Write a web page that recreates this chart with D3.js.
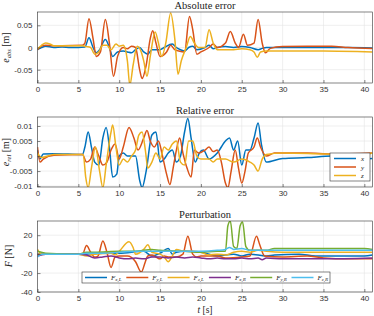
<!DOCTYPE html>
<html>
<head>
<meta charset="utf-8">
<script src="https://cdnjs.cloudflare.com/ajax/libs/d3/7.8.5/d3.min.js"></script>
<style>
  body { margin: 0; background: #fff; }
  svg { display: block; }
  .tick text { font-family: "Liberation Sans", Arial, sans-serif; font-size: 8px; fill: #333; }
</style>
</head>
<body>
<div id="chart"></div>
<script>

// time axis
var tTicks = [0, 5, 10, 15, 20, 25, 30, 35, 40];
var colors = ["#0072BD", "#D95319", "#EDB120", "#7E2F8E", "#77AC30", "#4DBEEE"];

// absolute error [t, value]
var absX = [[0,-0.005],[0.5,0],[1,0.003],[2,0],[3,0.001],[4,0],[5,0],[5.8,0.001],[6.3,0.022],[6.8,0],[7.2,-0.012],[7.6,-0.005],[8.3,0.018],[8.8,0],[9.2,-0.02],[9.8,-0.01],[10.5,-0.008],[11,-0.01],[11.5,-0.012],[12,-0.005],[12.5,0],[13,-0.01],[13.5,-0.015],[14,-0.005],[15,-0.005],[15.5,0],[16.5,0.008],[17,0],[17.5,-0.005],[18,-0.008],[18.5,0],[19,0.003],[19.5,-0.005],[20.5,0],[21,0.005],[21.5,-0.003],[22,0],[23,0.002],[24,0],[25,0.002],[26,0],[27,-0.005],[27.5,-0.002],[28,0],[30,0],[35,0],[38,0],[41,-0.001]];
var absY = [[0,-0.005],[0.5,0.003],[1,0.005],[2,0.004],[3,0.004],[5.5,0.005],[5.8,0.01],[6.3,0.065],[6.8,0.02],[7.2,-0.02],[7.7,-0.01],[8.3,0.063],[8.8,0.01],[9.3,-0.065],[9.8,-0.02],[10.5,0],[11,-0.003],[11.5,0.003],[12,0],[12.5,-0.05],[12.8,-0.07],[13.3,-0.04],[13.8,0.02],[14.1,0.038],[14.5,0.01],[15,-0.02],[15.8,-0.01],[16.3,0.005],[16.8,-0.005],[17.3,-0.008],[18,-0.01],[18.6,0.07],[19,0.04],[19.5,-0.015],[20,-0.01],[21,0],[21.5,0.008],[22,0],[23,0.01],[23.6,0.036],[24.2,0.01],[24.6,0],[25.2,0.03],[25.7,0.005],[26.5,0.01],[27,0.063],[27.5,0.01],[27.9,-0.012],[28.5,-0.002],[30,0.002],[33,0.003],[36,0.003],[38,0],[41,-0.002]];
var absZ = [[0,-0.003],[0.5,0.005],[1,0.01],[1.5,0.008],[2,0.004],[5.5,0.004],[6,0.002],[6.5,0],[7,-0.015],[7.5,-0.01],[8,0.005],[8.5,0.005],[9,-0.005],[9.6,0.008],[10,0.003],[10.5,0.005],[11,-0.03],[11.3,-0.085],[11.7,-0.04],[12.2,0.003],[12.7,-0.01],[13,-0.03],[13.4,-0.065],[13.8,-0.02],[14.4,0.035],[14.8,0.01],[15.2,-0.02],[15.7,0.01],[16.3,0.078],[16.8,0.02],[17.2,-0.06],[17.6,-0.03],[18.2,0],[18.7,0.025],[19.2,0.01],[19.7,0],[20.5,0],[21,0.04],[21.5,0.01],[22,-0.005],[23,-0.005],[24,-0.005],[25,-0.003],[26,-0.005],[26.5,-0.01],[26.9,-0.022],[27.3,-0.01],[28,-0.008],[30,-0.008],[35,-0.008],[41,-0.01]];

// relative error [t, value]
var relX = [[0,0.002],[0.3,-0.001],[0.7,0.0007],[2,0.0008],[5.5,0.0005],[5.8,0.003],[6.2,0.008],[6.6,0.003],[7,-0.002],[7.5,-0.003],[8,0.006],[8.4,0.0095],[8.8,0.003],[9.2,-0.007],[9.7,-0.006],[10,0],[10.5,0.001],[11,0],[12,0],[12.5,-0.008],[12.8,-0.0105],[13.3,-0.005],[14,0.007],[14.5,0.008],[15,-0.002],[15.5,-0.001],[16,0.001],[16.5,0.002],[17,-0.002],[17.5,0],[18,0.008],[18.4,0.0125],[18.8,0.006],[19.3,-0.002],[19.8,0.001],[20.3,0.002],[21,-0.001],[22,0.001],[23,0.005],[23.5,0.006],[24,0.002],[24.5,0.005],[25,-0.003],[25.5,0.002],[26,0.002],[26.5,0.006],[27,0.011],[27.4,0.004],[28,-0.002],[30,-0.0008],[33,-0.0005],[36,0],[39,-0.001],[41,-0.0008]];
var relY = [[0,0.003],[0.3,-0.002],[0.7,-0.001],[2,0.0003],[5.5,0.0005],[6,-0.002],[6.5,-0.001],[7,0.003],[7.5,0],[8,-0.003],[8.5,-0.002],[9,0.002],[9.5,0.004],[10,-0.001],[10.5,0.003],[11.2,0.0095],[11.8,0.006],[12.3,0.002],[13,0.006],[13.4,0.0085],[13.8,0.005],[14.3,0.003],[14.8,0.005],[15.3,0],[15.8,-0.006],[16.2,-0.0095],[16.6,-0.004],[17,0.002],[17.4,0.006],[17.8,0.001],[18.3,-0.004],[18.8,-0.007],[19.2,0.002],[19.7,0.001],[20.5,0.002],[21,0.003],[21.5,0.0015],[22,0.002],[22.5,-0.002],[23,-0.009],[23.3,-0.0105],[23.7,-0.005],[24.2,0.002],[24.6,-0.004],[25,-0.009],[25.4,-0.005],[25.8,0.001],[26.5,0.003],[26.9,0.006],[27.3,0.003],[28,0],[29,0.001],[33,0.001],[36,0.0007],[41,0.001]];
var relZ = [[0,0.001],[0.5,-0.0005],[2,0.0005],[5.6,0.0005],[5.9,-0.007],[6.2,-0.0105],[6.6,-0.004],[7.1,0.003],[7.6,-0.005],[8,-0.0105],[8.4,-0.003],[9,0.008],[9.2,0.0103],[9.6,0.003],[10,-0.003],[10.5,-0.001],[11,-0.002],[11.5,0],[12,0.002],[12.4,0.007],[12.8,0.008],[13.2,0.002],[13.5,-0.004],[14,-0.002],[14.5,0.001],[15,-0.001],[15.5,0.003],[16,0.002],[16.5,0.004],[17,0.005],[17.5,-0.002],[18,-0.003],[18.5,0.005],[19,0.005],[19.5,0],[20,-0.001],[21,-0.001],[21.5,-0.002],[22,-0.001],[23,-0.001],[24,-0.002],[25,-0.001],[26,-0.002],[26.5,-0.003],[27,-0.005],[27.5,-0.001],[28,0.0005],[30,0.001],[35,0.0007],[40,0.0005],[41,0.001]];

// perturbation forces [t, value]
var fxL = [[0,0],[5,0],[8,1],[10,1],[13,3],[14,-2],[15,1],[16,6],[16.5,0],[17,2],[18,3],[20,2],[22,-2],[24,0],[25,-2],[26,0],[28,-2],[29,-1],[32,0],[34,-2],[37,-2],[40,-2],[41,-1]];
var fyL = [[0,0],[5.5,0],[6,9],[6.5,2],[7,-3],[7.4,-2],[8,14],[8.5,2],[9,-14],[9.5,-3],[10,-2],[11,-2],[12,-8],[12.7,-19],[13.2,-8],[13.5,-2],[14,-1],[14.5,-3],[15,-5],[15.5,-2],[16,-3],[17,-3],[17.8,0],[18.4,19],[19,0],[19.5,-3],[20,-2],[22,-2],[23,-4],[25,-3],[26,-2],[26.8,19],[27.2,10],[27.8,-2],[30,-3],[33,-2],[35,-4],[38,-5],[41,-5]];
var fzL = [[0,5],[0.5,0],[5,0],[6,-2],[7,0],[9,1],[9.5,-1],[10,3],[11.2,13],[11.7,7],[12,0],[13,5],[13.5,10],[14,2],[15,0],[15.5,-3],[16,-8],[16.5,-2],[17,5],[18,3],[19,3],[20,2],[21,-1],[22,0],[23,-1],[24,2],[25,3],[26,2],[27,4],[28,3],[30,2],[41,2]];
var fxR = [[0,-2],[1,0],[5,0],[6,-1],[7,-4],[8,-3],[9,-2],[10,-4],[11,-5],[12,-4],[13,-5],[14,-3],[15,-3],[16,-4],[17,-3],[18,-4],[19,-3],[20,-4],[21,-5],[22,-4],[23,-5],[24,-5],[25,-4],[26,-5],[27,-4],[27.5,-6],[28,-4],[30,-5],[35,-5],[41,-4]];
var fyR = [[0,3],[1,1],[5,0],[6,2],[7,2],[10,3],[12,3],[14,5],[15,4],[18,3],[20,2],[22,3],[23,3],[23.3,30],[23.6,35],[24,8],[24.4,6],[24.8,30],[25.1,34],[25.5,8],[26,4],[28,4],[29,6],[35,6],[40,6],[41,5]];
var fzR = [[0,-3],[0.5,0],[5,0],[6,1],[8,1],[10,2],[12,3],[14,3],[16,3],[18,3],[20,3],[22,4],[23,5],[23.5,7],[24,5],[25,6],[26,4],[28,4],[30,4],[35,4],[38,4],[41,4]];

var absTicks = [-0.05, 0, 0.05];
var relTicks = [-0.01, -0.005, 0, 0.005, 0.01];
var forceTicks = [-40, -20, 0, 20];

var W = 374, H = 316;
var left = 37.5, right = 372.5;

var svg = d3.select("#chart").append("svg")
    .attr("width", W)
    .attr("height", H);

var x = d3.scaleLinear().domain([0, 41]).range([left, right]);

function drawPanel(id, top, bottom, yDomain, yTicks, title, series, cols) {
    var y = d3.scaleLinear().domain(yDomain).range([bottom, top]);
    var g = svg.append("g");

    // grid
    g.selectAll(".vg").data(tTicks).enter().append("line")
        .attr("x1", d => x(d)).attr("x2", d => x(d))
        .attr("y1", top).attr("y2", bottom)
        .attr("stroke", "#e4e4e4").attr("stroke-width", 0.6);
    g.selectAll(".hg").data(yTicks).enter().append("line")
        .attr("x1", left).attr("x2", right)
        .attr("y1", d => y(d)).attr("y2", d => y(d))
        .attr("stroke", "#e4e4e4").attr("stroke-width", 0.6);

    svg.append("clipPath").attr("id", id)
        .append("rect")
        .attr("x", left).attr("y", top)
        .attr("width", right - left).attr("height", bottom - top);

    var line = d3.line()
        .x(d => x(d[0]))
        .y(d => y(d[1]))
        .curve(d3.curveMonotoneX);

    g.append("g").attr("clip-path", "url(#" + id + ")")
        .selectAll("path").data(series).enter().append("path")
        .attr("d", line)
        .attr("fill", "none")
        .attr("stroke", (d, i) => cols[i])
        .attr("stroke-width", 1.5)
        .attr("stroke-linejoin", "round");

    // axes
    var xAxis = d3.axisBottom(x).tickValues(tTicks).tickSizeInner(-3).tickSizeOuter(0).tickPadding(3);
    var yAxis = d3.axisLeft(y).tickValues(yTicks).tickSizeInner(-3).tickSizeOuter(0).tickPadding(5)
        .tickFormat(d => String(d));

    g.append("g").attr("transform", "translate(0," + bottom + ")").call(xAxis)
        .call(a => a.select(".domain").remove());
    g.append("g").attr("transform", "translate(" + left + ",0)").call(yAxis)
        .call(a => a.select(".domain").remove());
    g.selectAll(".tick line").attr("stroke", "#333").attr("stroke-width", 0.6);

    g.append("rect")
        .attr("x", left).attr("y", top)
        .attr("width", right - left).attr("height", bottom - top)
        .attr("fill", "none")
        .attr("stroke", "#333")
        .attr("stroke-width", 0.6);

    g.append("text")
        .attr("x", (left + right) / 2)
        .attr("y", top - 3)
        .attr("text-anchor", "middle")
        .style("font-family", "'Liberation Serif', 'DejaVu Serif', serif")
        .style("font-size", "10.5px")
        .attr("fill", "#222")
        .text(title);

    return y;
}

function yLabel(cx, cy, main, sub, unit) {
    var t = svg.append("text")
        .attr("transform", "translate(" + cx + "," + cy + ") rotate(-90)")
        .attr("text-anchor", "middle")
        .style("font-family", "'Liberation Serif', 'DejaVu Serif', serif")
        .style("font-size", "10px")
        .attr("fill", "#222");
    t.append("tspan").style("font-style", "italic").text(main);
    if (sub) t.append("tspan").attr("dy", 2).style("font-size", "6.5px").style("font-style", "italic").text(sub);
    t.append("tspan").attr("dy", sub ? -2 : 0).text(" [" + unit + "]");
}

drawPanel("c1", 12, 83, [-0.08, 0.08], absTicks, "Absolute error", [absX, absY, absZ], colors);
yLabel(9, 47.5, "e", "abs", "m");

drawPanel("c2", 117, 187, [-0.0103, 0.013], relTicks, "Relative error", [relX, relY, relZ], colors);
yLabel(9, 152, "e", "rel", "m");

drawPanel("c3", 221, 292, [-40, 35], forceTicks, "Perturbation", [fxL, fyL, fzL, fxR, fyR, fzR], colors);
yLabel(12, 256, "F", null, "N");

// x label
var xl = svg.append("text")
    .attr("x", (left + right) / 2)
    .attr("y", 313)
    .attr("text-anchor", "middle")
    .style("font-family", "'Liberation Serif', 'DejaVu Serif', serif")
    .style("font-size", "9.5px")
    .attr("fill", "#222");
xl.append("tspan").style("font-style", "italic").text("t");
xl.append("tspan").text(" [s]");

// legend for relative error
var leg2 = svg.append("g").attr("transform", "translate(330,153)");
leg2.append("rect").attr("width", 40).attr("height", 28)
    .attr("fill", "#fff").attr("stroke", "#333").attr("stroke-width", 0.6);
["x", "y", "z"].forEach(function(name, i) {
    var yy = 5.5 + i * 8.5;
    leg2.append("line").attr("x1", 4).attr("x2", 26).attr("y1", yy).attr("y2", yy)
        .attr("stroke", colors[i]).attr("stroke-width", 1.5);
    leg2.append("text").attr("x", 31).attr("y", yy + 2.5)
        .style("font-family", "'Liberation Serif', serif")
        .style("font-style", "italic").style("font-size", "7px")
        .attr("fill", "#222").text(name);
});

// legend for forces
var forceNames = [["x", "L"], ["y", "L"], ["z", "L"], ["x", "R"], ["y", "R"], ["z", "R"]];
var leg3 = svg.append("g").attr("transform", "translate(82,272)");
leg3.append("rect").attr("width", 248).attr("height", 11)
    .attr("fill", "#fff").attr("stroke", "#333").attr("stroke-width", 0.6);
forceNames.forEach(function(n, i) {
    var x0 = 3 + i * 41.3;
    leg3.append("line").attr("x1", x0).attr("x2", x0 + 22).attr("y1", 5.5).attr("y2", 5.5)
        .attr("stroke", colors[i]).attr("stroke-width", 1.5);
    var t = leg3.append("text").attr("x", x0 + 26).attr("y", 7.5)
        .style("font-family", "'Liberation Serif', serif")
        .style("font-style", "italic").style("font-size", "7px")
        .attr("fill", "#222");
    t.append("tspan").text("F");
    t.append("tspan").attr("dy", 1.5).style("font-size", "5px").text(n[0] + "," + n[1]);
});

</script>
</body>
</html>
